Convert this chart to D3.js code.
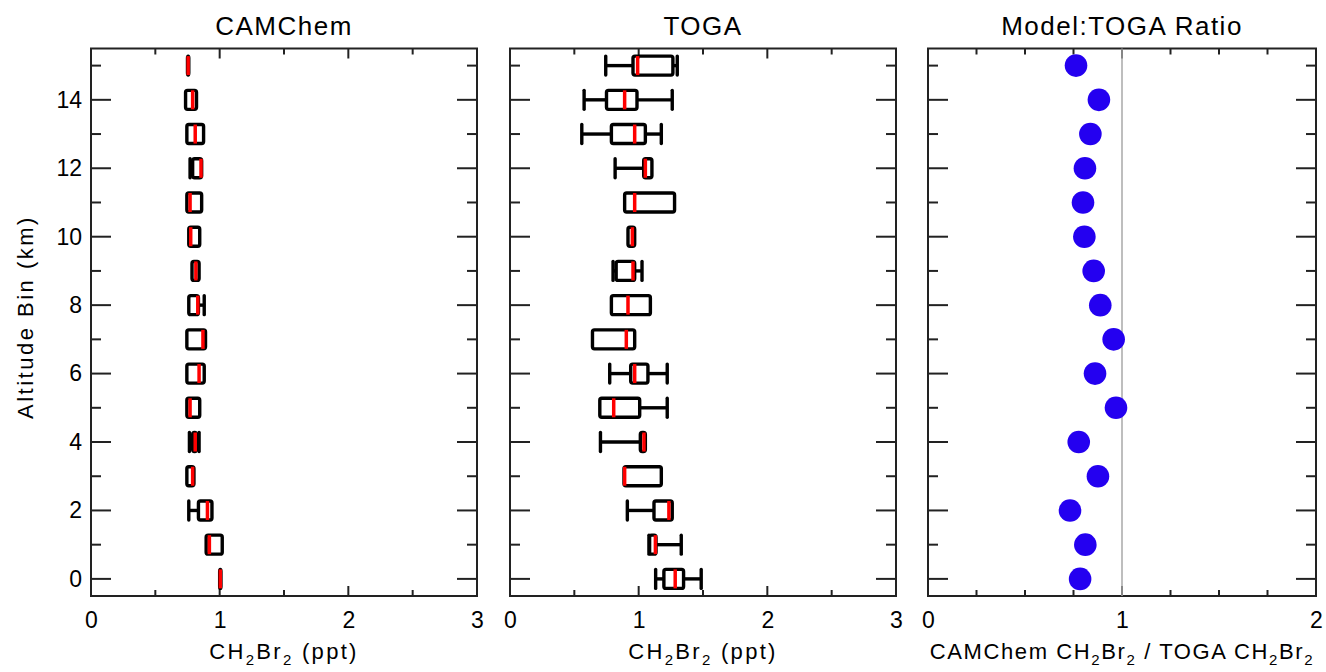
<!DOCTYPE html>
<html><head><meta charset="utf-8">
<script src="https://cdn.jsdelivr.net/npm/d3@7"></script>
<style>
body{margin:0;background:#fff}
text{font-family:"Liberation Sans",Arial,sans-serif;fill:#000}
</style>
</head><body>
<svg id="c" width="1326" height="672"></svg>
<script>
// ---------------- data ----------------
const altitudes = [0,1,2,3,4,5,6,7,8,9,10,11,12,13,14,15];
// CAMChem CH2Br2 (ppt) box statistics per altitude bin
const camMin = [1.000,0.895,0.760,0.745,0.765,0.745,0.745,0.745,0.760,0.785,0.760,0.745,0.770,0.745,0.735,0.750];
const camQ1  = [1.000,0.895,0.835,0.745,0.790,0.745,0.745,0.745,0.760,0.785,0.760,0.745,0.790,0.745,0.735,0.750];
const camMed = [1.005,0.920,0.905,0.790,0.810,0.770,0.840,0.870,0.830,0.815,0.775,0.770,0.855,0.810,0.790,0.755];
const camQ3  = [1.010,1.020,0.940,0.800,0.820,0.845,0.880,0.890,0.835,0.840,0.845,0.860,0.860,0.875,0.820,0.760];
const camMax = [1.010,1.020,0.940,0.800,0.840,0.845,0.880,0.890,0.880,0.840,0.845,0.860,0.860,0.875,0.820,0.760];
// TOGA CH2Br2 (ppt) box statistics per altitude bin
const togaMin = [1.132,1.080,0.912,0.886,0.703,0.698,0.775,0.641,0.788,0.801,0.917,0.891,0.817,0.558,0.576,0.744];
const togaQ1  = [1.196,1.085,1.119,0.886,1.013,0.698,0.938,0.641,0.788,0.825,0.917,0.891,1.039,0.788,0.750,0.956];
const togaMed = [1.284,1.130,1.235,0.891,1.041,0.806,0.969,0.904,0.917,0.956,0.951,0.969,1.052,0.969,0.891,0.992];
const togaQ3  = [1.349,1.135,1.261,1.176,1.052,1.008,1.072,0.969,1.091,0.969,0.969,1.279,1.103,1.052,0.987,1.266];
const togaMax = [1.486,1.331,1.261,1.176,1.052,1.222,1.222,0.969,1.091,1.026,0.969,1.279,1.103,1.176,1.261,1.300];
// Model:TOGA ratio per altitude bin
const ratio = [0.784,0.811,0.732,0.876,0.777,0.969,0.861,0.957,0.888,0.854,0.806,0.799,0.809,0.837,0.881,0.763];

const panelTitles = ["CAMChem","TOGA","Model:TOGA Ratio"];
const yTickLabels = [0,2,4,6,8,10,12,14];
const concTickLabels = [0,1,2,3];
const ratioTickLabels = [0,1,2];

// ---------------- layout ----------------
const svg = d3.select("#c");
const yTop = 48.5, yBottom = 596;
const y = d3.scaleLinear().domain([-0.5,15.5]).range([yBottom, yTop]);
const panels = [
  {x0:91, x1:477, domain:[0,3], step:0.5, labels:concTickLabels, title:panelTitles[0]},
  {x0:510, x1:896, domain:[0,3], step:0.5, labels:concTickLabels, title:panelTitles[1]},
  {x0:928, x1:1316, domain:[0,2], step:0.25, labels:ratioTickLabels, title:panelTitles[2]}
];
panels.forEach(p => p.x = d3.scaleLinear().domain(p.domain).range([p.x0, p.x1]));

const axisColor = "#222";

function frame(p, idx){
  const g = svg.append("g");
  d3.range(0,16).forEach(v=>{
    const len = v%2===0 ? 20 : 10;
    g.append("line").attr("x1",p.x0).attr("x2",p.x0+len).attr("y1",y(v)).attr("y2",y(v))
      .attr("stroke",axisColor).attr("stroke-width",2);
    g.append("line").attr("x1",p.x1).attr("x2",p.x1-len).attr("y1",y(v)).attr("y2",y(v))
      .attr("stroke",axisColor).attr("stroke-width",2);
  });
  const n = Math.round((p.domain[1]-p.domain[0])/p.step);
  d3.range(0,n+1).map(i=>p.domain[0]+i*p.step).forEach(v=>{
    const len = Math.abs(v-Math.round(v))<1e-6 ? 10 : 6;
    g.append("line").attr("x1",p.x(v)).attr("x2",p.x(v)).attr("y1",yBottom).attr("y2",yBottom-len)
      .attr("stroke",axisColor).attr("stroke-width",2);
    g.append("line").attr("x1",p.x(v)).attr("x2",p.x(v)).attr("y1",yTop).attr("y2",yTop+len)
      .attr("stroke",axisColor).attr("stroke-width",2);
  });
  g.append("rect").attr("x",p.x0).attr("y",yTop).attr("width",p.x1-p.x0).attr("height",yBottom-yTop)
    .attr("fill","none").attr("stroke",axisColor).attr("stroke-width",2);
  const ax = svg.append("g").attr("transform",`translate(0,${yBottom})`)
    .call(d3.axisBottom(p.x).tickValues(p.labels).tickFormat(d3.format("d")).tickSize(0).tickPadding(16));
  ax.select(".domain").remove();
  ax.selectAll("text").attr("font-size",23).attr("font-family","Liberation Sans, Arial, sans-serif").attr("fill","#000");
  svg.append("text").attr("x",(p.x0+p.x1)/2).attr("y",35).attr("text-anchor","middle")
    .attr("font-size",26).attr("letter-spacing",1.5).text(p.title);
}
panels.forEach(frame);

const yax = svg.append("g").attr("transform",`translate(${panels[0].x0},0)`)
  .call(d3.axisLeft(y).tickValues(yTickLabels).tickSize(0).tickPadding(9));
yax.select(".domain").remove();
yax.selectAll("text").attr("font-size",23).attr("font-family","Liberation Sans, Arial, sans-serif").attr("fill","#000");

svg.append("text").attr("transform",`translate(33,317) rotate(-90)`)
  .attr("text-anchor","middle").attr("font-size",22).attr("letter-spacing",2.5).text("Altitude Bin (km)");

function chemTitle(parts, cx, spacing){
  const t = svg.append("text").attr("x",cx).attr("y",659).attr("text-anchor","middle")
    .attr("font-size",22).attr("letter-spacing",spacing);
  let shifted = false;
  parts.forEach(pt=>{
    const ts = t.append("tspan").text(pt.s);
    if(pt.sub){
      ts.attr("font-size",15).attr("dy", shifted ? 0 : 6);
      shifted = true;
    } else {
      ts.attr("dy", shifted ? -6 : 0);
      shifted = false;
    }
  });
}
const ch2br2 = [{s:"CH"},{s:"2",sub:true},{s:"Br"},{s:"2",sub:true}];
chemTitle([...ch2br2,{s:" (ppt)"}], (panels[0].x0+panels[0].x1)/2, 2.3);
chemTitle([...ch2br2,{s:" (ppt)"}], (panels[1].x0+panels[1].x1)/2, 2.3);
chemTitle([{s:"CAMChem "},...ch2br2,{s:" / TOGA "},...ch2br2], (panels[2].x0+panels[2].x1)/2, 1.6);

// ---------------- box plots ----------------
const hh = 9.5, sw = 3.4;
function boxes(p, mn, q1, md, q3, mx){
  const g = svg.append("g");
  altitudes.forEach((a,i)=>{
    const cy = y(a);
    const bl = p.x(q1[i]), br = p.x(q3[i]);
    if(mn[i] < q1[i]){
      g.append("line").attr("x1",p.x(mn[i])).attr("x2",bl).attr("y1",cy).attr("y2",cy)
        .attr("stroke","#000").attr("stroke-width",sw);
      g.append("line").attr("x1",p.x(mn[i])).attr("x2",p.x(mn[i])).attr("y1",cy-hh).attr("y2",cy+hh)
        .attr("stroke","#000").attr("stroke-width",sw).attr("stroke-linecap","round");
    }
    if(mx[i] > q3[i]){
      g.append("line").attr("x1",br).attr("x2",p.x(mx[i])).attr("y1",cy).attr("y2",cy)
        .attr("stroke","#000").attr("stroke-width",sw);
      g.append("line").attr("x1",p.x(mx[i])).attr("x2",p.x(mx[i])).attr("y1",cy-hh).attr("y2",cy+hh)
        .attr("stroke","#000").attr("stroke-width",sw).attr("stroke-linecap","round");
    }
    g.append("rect").attr("x",bl).attr("y",cy-hh).attr("width",Math.max(0.5,br-bl)).attr("height",2*hh)
      .attr("rx",2).attr("fill","none").attr("stroke","#000").attr("stroke-width",sw);
    g.append("line").attr("x1",p.x(md[i])).attr("x2",p.x(md[i])).attr("y1",cy-hh).attr("y2",cy+hh)
      .attr("stroke","#ff0000").attr("stroke-width",3.5);
  });
}
boxes(panels[0], camMin, camQ1, camMed, camQ3, camMax);
boxes(panels[1], togaMin, togaQ1, togaMed, togaQ3, togaMax);

// ---------------- ratio panel ----------------
const p3 = panels[2];
svg.append("line").attr("x1",p3.x(1)).attr("x2",p3.x(1)).attr("y1",yTop).attr("y2",yBottom)
  .attr("stroke","#a8a8a8").attr("stroke-width",1.5);
svg.append("g").selectAll("circle").data(altitudes).join("circle")
  .attr("cx",(d,i)=>p3.x(ratio[i])).attr("cy",d=>y(d)).attr("r",11.3).attr("fill","#2400f0");
</script>
</body></html>
